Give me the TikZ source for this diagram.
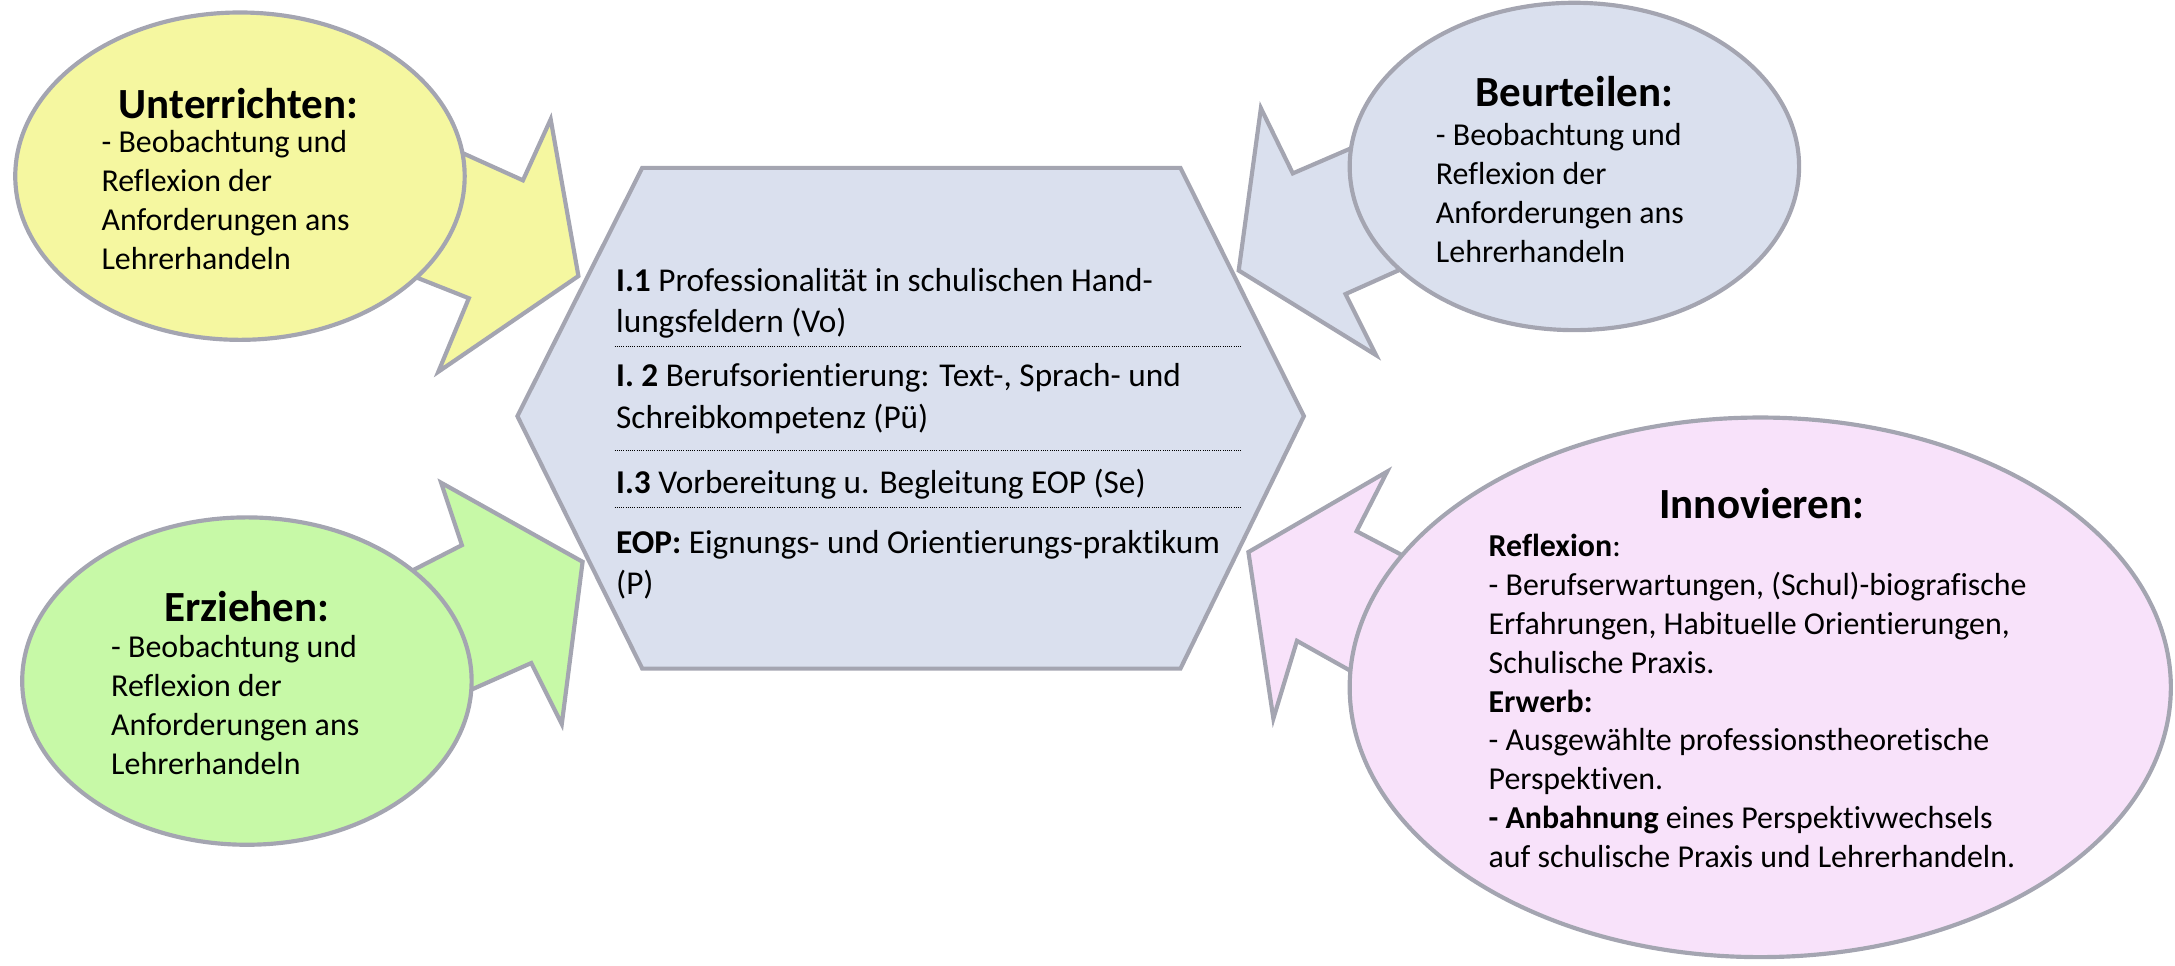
\documentclass[tikz,border=0pt]{standalone}
\usepackage{fontspec}
\setmainfont{Carlito}[Ligatures=NoCommon]
\definecolor{yel}{RGB}{245,247,160}
\definecolor{blu}{RGB}{218,224,238}
\definecolor{grn}{RGB}{199,249,167}
\definecolor{pnk}{RGB}{248,226,250}
\definecolor{edgec}{RGB}{164,165,177}
\begin{document}
\begin{tikzpicture}[x=1pt,y=-1pt,
  blob/.style={draw=edgec,line width=3pt,line join=miter},
  body/.style={inner sep=0pt,align=left,anchor=north west,font=\fontsize{23}{28}\selectfont},
  hextxt/.style={inner sep=0pt,align=left,anchor=north west,font=\fontsize{24}{30}\selectfont},
  ttl/.style={inner sep=0pt,anchor=center,font=\fontsize{31}{34}\selectfont\bfseries},
  sep/.style={densely dotted,line width=0.6pt,black}]
\useasboundingbox (0,0) rectangle (1568,696);

% central hexagon
\filldraw[blob,fill=blu] (463,121)--(851,121)--(940,300)--(851,482)--(463,482)--(373,300)--cycle;

% yellow callout
\filldraw[blob,fill=yel] (315,102)--(377,130)--(397,86)--(417,199)--(316,268)--(338,215)--(285,194)--cycle;
\filldraw[blob,fill=yel] (173,127) ellipse [x radius=162pt,y radius=118pt];

% blue callout
\filldraw[blob,fill=blu] (990,100)--(932,125)--(909,78)--(893,195)--(992,256)--(970,212)--(1008,195)--cycle;
\filldraw[blob,fill=blu] (1135,120) ellipse [x radius=162pt,y radius=118pt];

% green callout
\filldraw[blob,fill=grn] (290,415)--(333,393)--(318,348)--(420,405)--(405,522)--(383,478)--(320,506)--cycle;
\filldraw[blob,fill=grn] (178,491) ellipse [x radius=162pt,y radius=118pt];

% pink callout
\filldraw[blob,fill=pnk] (1020,405)--(978,383)--(1000,340)--(900,398)--(918,518)--(935,462)--(985,490)--cycle;
\filldraw[blob,fill=pnk] (1269,495.5) ellipse [x radius=296pt,y radius=194.5pt];

% texts yellow
\node[ttl] (ut) at (172,75) {Unterrichten:};
\node[body] (ub) at (73,94) {- Beobachtung und\\Reflexion der\\Anforderungen ans\\Lehrerhandeln};

% texts blue
\node[ttl] (bt) at (1135,66) {Beurteilen:};
\node[body] (bb) at (1035,89) {- Beobachtung und\\Reflexion der\\Anforderungen ans\\Lehrerhandeln};

% texts green
\node[ttl] (et) at (178,437) {Erziehen:};
\node[body] (eb) at (80,458) {- Beobachtung und\\Reflexion der\\Anforderungen ans\\Lehrerhandeln};

% texts pink
\node[ttl] (it) at (1270,363) {Innovieren:};
\node[body] (ib) at (1073,385) {\textbf{Reflexion}:\\- Berufserwartungen, (Schul)-biografische\\Erfahrungen, Habituelle Orientierungen,\\Schulische Praxis.\\\textbf{Erwerb:}\\- Ausgewählte professionstheoretische\\Perspektiven.\\\textbf{- Anbahnung} eines Perspektivwechsels\\auf schulische Praxis und Lehrerhandeln.};

% hexagon texts
\node[hextxt] (h1) at (444,193) {\textbf{I.1} Professionalität in schulischen Hand-\\lungsfeldern (Vo)};
\node[hextxt] (h2) at (444,262) {\textbf{I. 2} Berufsorientierung: Text-, Sprach- und\\Schreibkompetenz (Pü)};
\node[hextxt] (h3) at (444,338) {\textbf{I.3} Vorbereitung u. Begleitung EOP (Se)};
\node[hextxt] (h4) at (444,382) {\textbf{EOP:} Eignungs- und Orientierungs-praktikum\\(P)};

\coordinate (s1a) at (443,250); \coordinate (s1b) at (895,250);
\coordinate (s2a) at (443,325); \coordinate (s2b) at (895,325);
\coordinate (s3a) at (443,366); \coordinate (s3b) at (895,366);
\draw[sep] (s1a)--(s1b);
\draw[sep] (s2a)--(s2b);
\draw[sep] (s3a)--(s3b);
\end{tikzpicture}
\end{document}
